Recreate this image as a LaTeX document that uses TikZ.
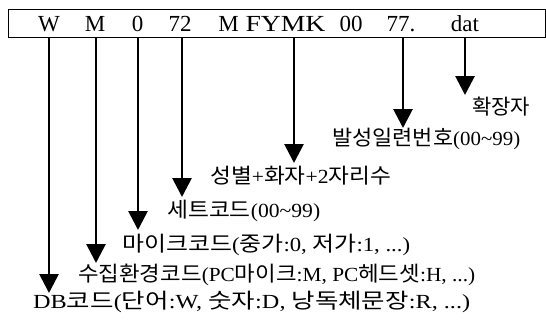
\documentclass[tikz,border=0pt]{standalone}
\usepackage{fontspec}
\usepackage{graphicx}
\setmainfont{Liberation Serif}
\newfontfamily\kr{Noto Sans CJK KR}
\newcommand\K[1]{{\fontsize{21}{20}\kr #1}}
\newcommand\fitw[2]{\resizebox{#1pt}{\height}{#2}}
\usetikzlibrary{arrows.meta}
\begin{document}
\begin{tikzpicture}[x=1pt,y=-1pt,
  tok/.style={inner sep=0pt,anchor=base,font=\fontsize{23}{23}\selectfont},
  lab/.style={inner sep=0pt,anchor=west,font=\fontsize{20}{20}\selectfont},
  arr/.style={line width=2.8pt,-{Triangle[width=19pt,length=19pt]}},
  ]
\useasboundingbox (0,0) rectangle (546,327);
\node[draw,line width=1.3pt,minimum width=537pt,minimum height=28pt,anchor=north west,inner sep=0pt] (box) at (8,9) {};
% tokens in the file name
\node[tok] (tW) at (49,31) {W};
\node[tok] (tM) at (95,31) {M};
\node[tok] (t0) at (137.5,31) {0};
\node[tok] (t72) at (180,31) {72};
\node[tok] (tM2) at (228.5,31) {M};
\node[tok] (tF) at (285.5,31) {\fitw{80}{FYMK}};
\node[tok] (t00) at (351,31) {00};
\node[tok] (t77) at (401,31) {77.};
\node[tok] (tdat) at (465,31) {dat};
% labels
\node[lab] (lext) at (472,107) {\fitw{58}{\K{확장자}}};
\node[lab] (lser) at (332,139) {\fitw{188}{\K{발성일련번호}(00\textasciitilde99)}};
\node[lab] (lspk) at (210,176) {\fitw{181}{\K{성별}+\K{화자}+2\K{자리수}}};
\node[lab] (lset) at (167,211) {\fitw{153}{\K{세트코드}(00\textasciitilde99)}};
\node[lab] (lmic) at (122,245) {\fitw{288}{\K{마이크코드}(\K{중가}:0, \K{저가}:1, ...)}};
\node[lab] (lenv) at (78,275) {\fitw{397}{\K{수집환경코드}(PC\K{마이크}:M, PC\K{헤드셋}:H, ...)}};
\node[lab] (ldb) at (33,302) {\fitw{437}{DB\K{코드}(\K{단어}:W, \K{숫자}:D, \K{낭독체문장}:R, ...)}};
% arrow ends
\coordinate (sW) at (49,38);   \coordinate (eW) at (49,293);
\coordinate (sM) at (96,38);   \coordinate (eM) at (96,263);
\coordinate (s0) at (138,38);  \coordinate (e0) at (138,230);
\coordinate (s72) at (182,38); \coordinate (e72) at (182,197);
\coordinate (sF) at (294,38);  \coordinate (eF) at (294,163);
\coordinate (s77) at (403,38); \coordinate (e77) at (403,128);
\coordinate (sd) at (465,38);  \coordinate (ed) at (465,95);
\draw[arr] (sW) -- (eW);
\draw[arr] (sM) -- (eM);
\draw[arr] (s0) -- (e0);
\draw[arr] (s72) -- (e72);
\draw[arr] (sF) -- (eF);
\draw[arr] (s77) -- (e77);
\draw[arr] (sd) -- (ed);
\end{tikzpicture}
\end{document}
